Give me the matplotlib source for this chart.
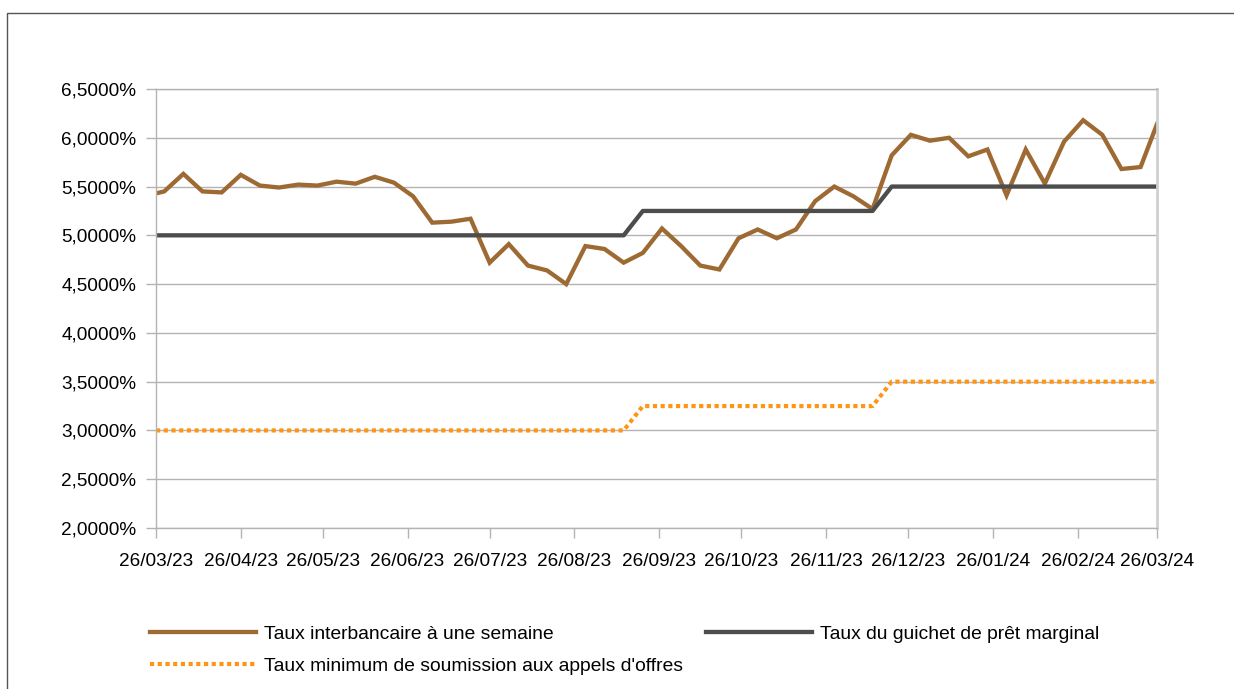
import pandas as pd
import matplotlib
matplotlib.use("Agg")
import matplotlib.pyplot as plt
import matplotlib.dates as mdates
from matplotlib.ticker import FuncFormatter
from matplotlib.patches import Rectangle

plt.rcParams['font.family'] = ['Liberation Sans', 'DejaVu Sans']

# weekly observations (Wednesdays) plus the two window ends
dates = ([pd.Timestamp('2023-03-26')]
         + list(pd.date_range('2023-03-29', '2024-03-20', freq='7D'))
         + [pd.Timestamp('2024-03-26')])

interbank = [5.43, 5.45, 5.63, 5.45, 5.44, 5.62, 5.51, 5.49, 5.52, 5.51,
             5.55, 5.53, 5.60, 5.54, 5.40, 5.13, 5.14, 5.17, 4.72, 4.91,
             4.69, 4.64, 4.50, 4.89, 4.86, 4.72, 4.82, 5.07, 4.89, 4.69,
             4.65, 4.97, 5.06, 4.97, 5.06, 5.35, 5.50, 5.40, 5.27, 5.82,
             6.03, 5.97, 6.00, 5.81, 5.88, 5.41, 5.88, 5.53, 5.96, 6.18,
             6.03, 5.68, 5.70, 6.14]
marginal = [5.0] * 26 + [5.25] * 13 + [5.5] * 15
min_bid = [3.0] * 26 + [3.25] * 13 + [3.5] * 15

labels = ["Taux interbancaire à une semaine",
          "Taux minimum de soumission aux appels d'offres",
          "Taux du guichet de prêt marginal"]

W, H = 1234, 689
fig = plt.figure(figsize=(W / 100, H / 100), dpi=100)
ax = fig.add_axes([156 / W, (H - 528) / H, 1001 / W, 439 / H])

grid_c = '#b3b3b3'
l1, = ax.plot(dates, interbank, color='#9e6a33', lw=3.1, solid_joinstyle='miter')
l3, = ax.plot(dates, marginal, color='#4d4d4d', lw=3.1)
l2, = ax.plot(dates, min_bid, color='#ff9514', lw=3.0, linestyle=(0, (1, 0.85)),
              dash_capstyle='butt')

ax.set_xlim(pd.Timestamp('2023-03-26'), pd.Timestamp('2024-03-26'))
ax.set_ylim(2.0, 6.5)
ax.set_yticks([2.0 + 0.5 * i for i in range(10)])
ax.yaxis.set_major_formatter(FuncFormatter(lambda v, p: f"{v:.4f}%".replace('.', ',')))
ax.xaxis.set_major_locator(mdates.MonthLocator(bymonthday=26))
ax.xaxis.set_major_formatter(mdates.DateFormatter('%d/%m/%y'))

ax.grid(axis='y', color=grid_c, lw=1)
ax.set_axisbelow(True)
for s in ax.spines.values():
    s.set_color(grid_c)
    s.set_linewidth(1)
ax.spines['right'].set_color('#d0d0d0')
ax.spines['right'].set_linewidth(2)
ax.tick_params(axis='both', length=7.2, width=1, color=grid_c, labelsize=13.7)
ax.tick_params(axis='x', pad=10.5)
ax.tick_params(axis='y', pad=7)

fig.legend([l1, l2, l3], labels, ncol=2, frameon=False, fontsize=13.9,
           loc='upper left', bbox_to_anchor=(150 / W, 1 - 625 / H),
           borderaxespad=0, borderpad=0, handlelength=5.5, handletextpad=0.4,
           columnspacing=1.2, labelspacing=0.75)

fig.patches.append(Rectangle((7 / W, -0.1), 1.2, 1 - 13 / H + 0.1,
                             transform=fig.transFigure, fill=False,
                             edgecolor='#555555', lw=1))

fig.savefig('out.png', dpi=100)
